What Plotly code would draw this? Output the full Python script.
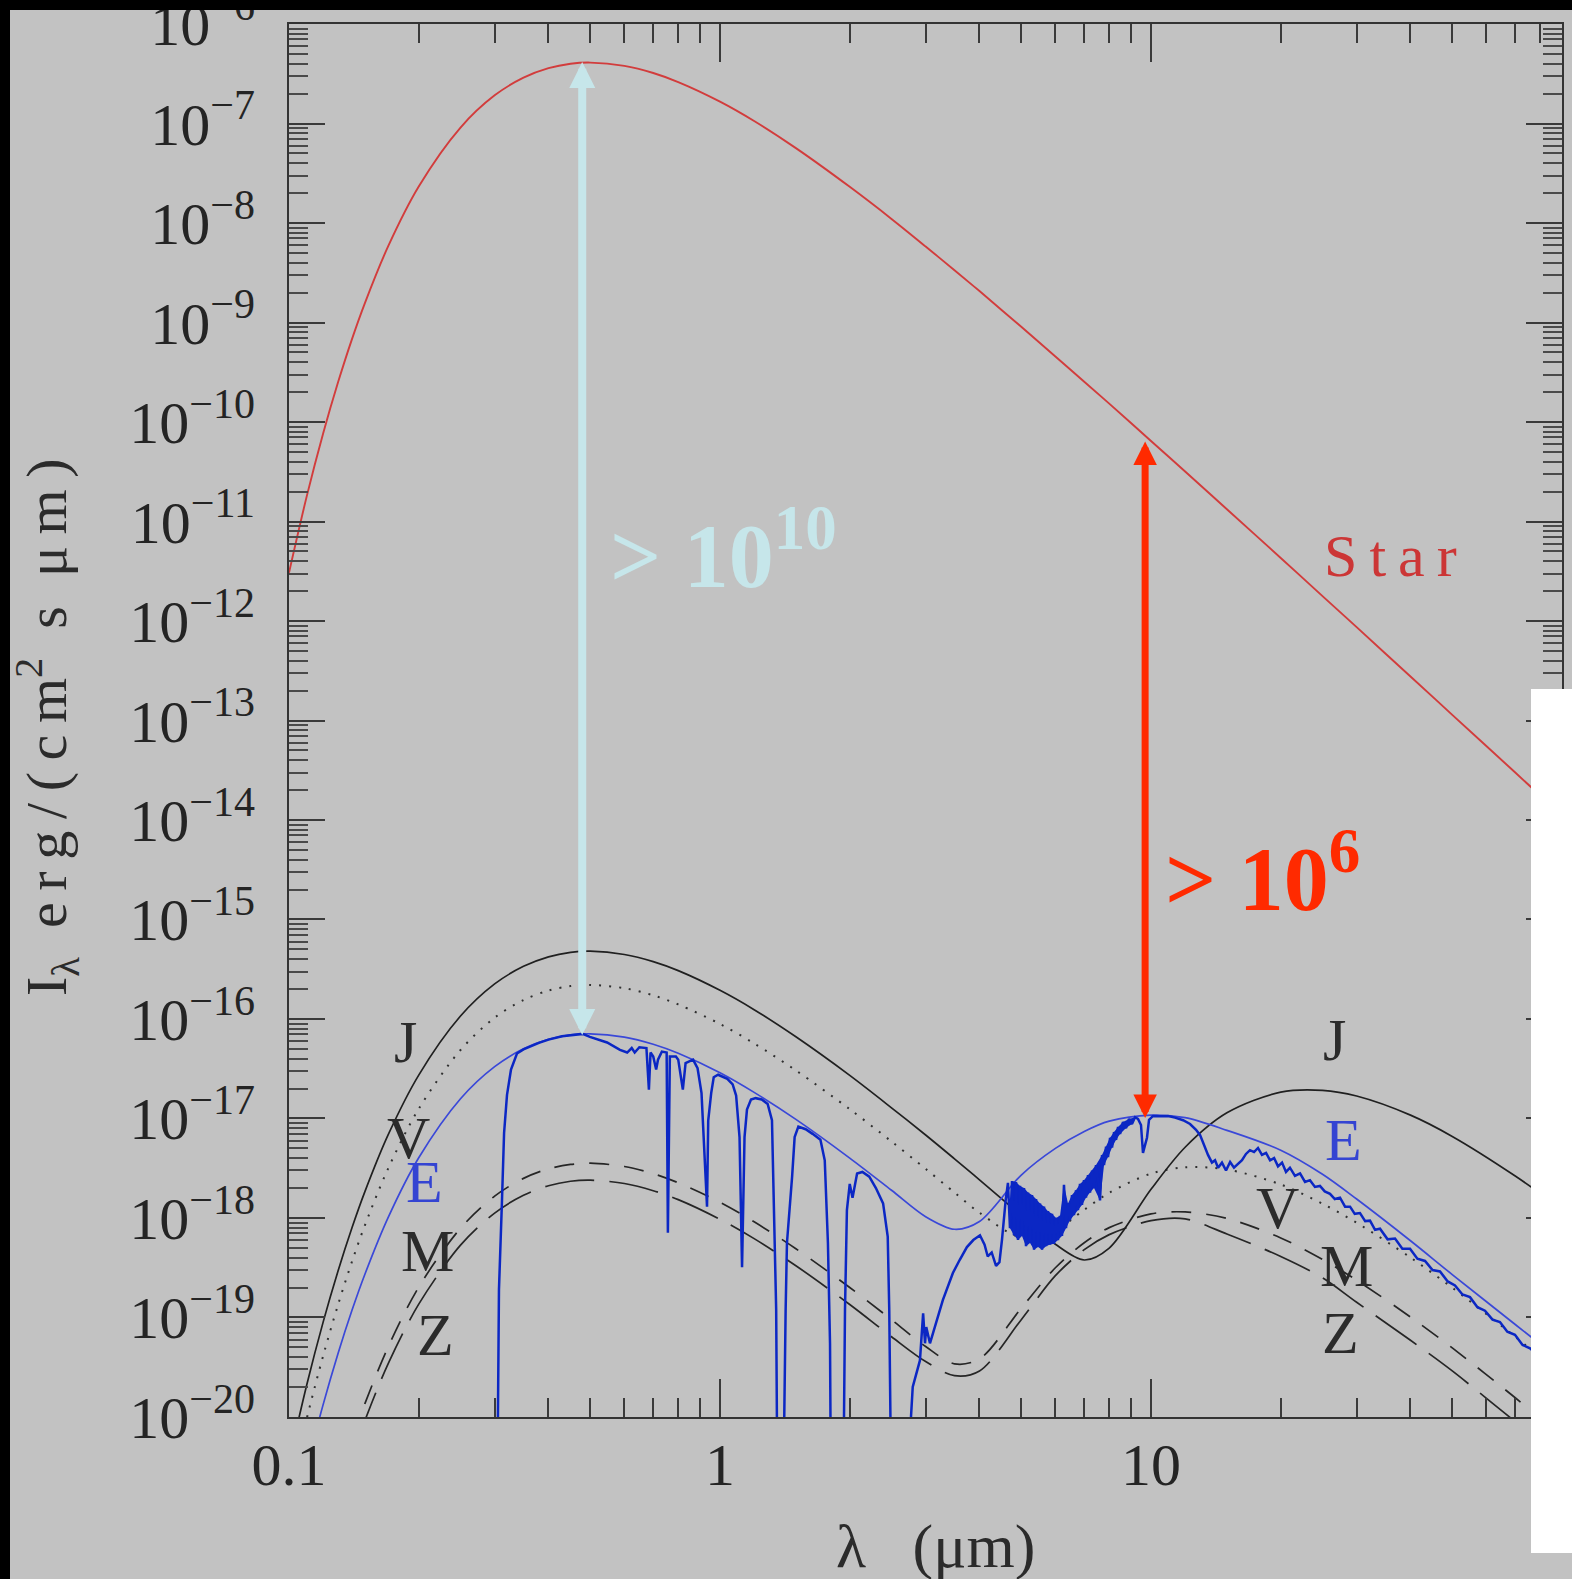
import math
import plotly.graph_objects as go

# ---------------- data ----------------
LAMBDA_UM = [0.1, 0.11, 0.12, 0.13, 0.14, 0.15, 0.17, 0.2, 0.25, 0.3, 0.35, 0.4, 0.45, 0.5,
             0.6, 0.7, 0.8, 1.0, 1.2, 1.5, 2, 2.5, 3, 3.5, 4, 5, 6, 7, 8, 10, 12, 15, 20, 25,
             30, 40, 50, 70, 90]

STAR = [3.06e-12, 1.81e-11, 7.68e-11, 2.52e-10, 6.82e-10, 1.57e-9, 5.89e-9, 2.33e-8, 9.12e-8,
        1.92e-7, 2.89e-7, 3.60e-7, 3.99e-7, 4.10e-7, 3.80e-7, 3.22e-7, 2.61e-7, 1.66e-7,
        1.06e-7, 5.66e-8, 2.31e-8, 1.10e-8, 5.81e-9, 3.35e-9, 2.07e-9, 9.05e-10, 4.56e-10,
        2.54e-10, 1.53e-10, 6.45e-11, 3.18e-11, 1.33e-11, 4.30e-12, 1.78e-12, 8.67e-13,
        2.77e-13, 1.14e-13, 3.0e-14, 1.10e-14]

JUPITER = [3.58e-21, 2.12e-20, 8.98e-20, 2.95e-19, 7.97e-19, 1.84e-18, 6.91e-18, 2.73e-17,
           1.07e-16, 2.25e-16, 3.38e-16, 4.21e-16, 4.67e-16, 4.8e-16, 4.45e-16, 3.77e-16,
           3.06e-16, 1.94e-16, 1.24e-16, 6.62e-17, 2.71e-17, 1.28e-17, 6.82e-18, 3.93e-18,
           2.42e-18, 1.06e-18, 5.44e-19, 3.78e-19, 4.98e-19, 1.94e-18, 5.14e-18, 1.14e-17,
           1.84e-17, 1.92e-17, 1.68e-17, 1.08e-17, 6.6e-18, 2.64e-18, 1.22e-18]

VENUS = [1.64e-21, 9.7e-21, 4.11e-20, 1.35e-19, 3.65e-19, 8.43e-19, 3.17e-18, 1.25e-17,
         4.88e-17, 1.03e-16, 1.55e-16, 1.93e-16, 2.14e-16, 2.2e-16, 2.04e-16, 1.73e-16,
         1.40e-16, 8.91e-17, 5.68e-17, 3.04e-17, 1.24e-17, 5.87e-18, 3.12e-18, 1.80e-18,
         1.13e-18, 6.38e-19, 7.52e-19, 1.21e-18, 1.79e-18, 2.79e-18, 3.23e-18, 3.07e-18,
         2.17e-18, 1.39e-18, 8.96e-19, 4.0e-19, 1.99e-19, 6.4e-20, 2.6e-20]

EARTH_BB = [5.3e-22, 3.13e-21, 1.33e-20, 4.37e-20, 1.18e-19, 2.72e-19, 1.02e-18, 4.03e-18,
            1.58e-17, 3.32e-17, 5.01e-17, 6.23e-17, 6.91e-17, 7.1e-17, 6.58e-17, 5.57e-17,
            4.52e-17, 2.88e-17, 1.83e-17, 9.8e-18, 4.0e-18, 1.90e-18, 1.03e-18, 7.7e-19,
            9.2e-19, 2.7e-18, 5.0e-18, 7.4e-18, 9.4e-18, 1.08e-17, 1.02e-17, 7.6e-18,
            4.8e-18, 2.75e-18, 1.55e-18, 5.9e-19, 2.7e-19, 8.5e-20, 3.6e-20]

MARS = [2.65e-23, 1.57e-22, 6.6e-22, 2.18e-21, 5.9e-21, 1.36e-20, 5.1e-20, 2.02e-19, 7.88e-19,
        1.66e-18, 2.5e-18, 3.12e-18, 3.45e-18, 3.55e-18, 3.29e-18, 2.79e-18, 2.26e-18,
        1.44e-18, 9.16e-19, 4.9e-19, 2.0e-19, 9.5e-20, 5.1e-20, 3.42e-20, 3.83e-20, 1.24e-19,
        3.16e-19, 5.64e-19, 8.0e-19, 1.1e-18, 1.15e-18, 9.9e-19, 6.3e-19, 3.83e-19, 2.37e-19,
        1.01e-19, 4.94e-20, 1.56e-20, 6.3e-21]

ZODI = [1.8e-23, 1.06e-22, 4.5e-22, 1.48e-21, 3.98e-21, 9.2e-21, 3.46e-20, 1.36e-19, 5.33e-19,
        1.12e-18, 1.69e-18, 2.11e-18, 2.34e-18, 2.4e-18, 2.22e-18, 1.88e-18, 1.53e-18,
        9.7e-19, 6.2e-19, 3.31e-19, 1.35e-19, 6.4e-20, 3.6e-20, 2.6e-20, 2.9e-20, 9.5e-20,
        2.63e-19, 4.8e-19, 6.8e-19, 9.4e-19, 9.8e-19, 6.9e-19, 4.1e-19, 2.5e-19, 1.42e-19,
        5.9e-20, 2.9e-20, 9e-21, 4e-21]

# Earth spectrum (wavelength um, intensity) pieces
EARTH_SPEC_VIS = [
    (0.304, 1e-21), (0.307, 1.9e-19), (0.312, 1.5e-18), (0.3155, 7.1e-18), (0.3205, 1.73e-17),
    (0.3274, 3.1e-17), (0.338, 4.5e-17), (0.35, 4.95e-17), (0.38, 5.75e-17), (0.40, 6.2e-17),
    (0.43, 6.7e-17), (0.46, 7.0e-17), (0.48, 7.08e-17), (0.499, 6.6e-17), (0.52, 6.2e-17),
    (0.547, 5.8e-17), (0.586, 4.9e-17), (0.609, 4.6e-17), (0.624, 5.1e-17), (0.634, 4.6e-17),
    (0.65, 5.2e-17), (0.675, 5.1e-17), (0.684, 1.95e-17), (0.69, 4.6e-17), (0.70, 4.2e-17),
    (0.711, 3.1e-17), (0.718, 3.9e-17), (0.733, 4.7e-17), (0.752, 4.6e-17), (0.757, 7.1e-19),
    (0.765, 4.2e-17), (0.79, 4.2e-17), (0.80, 3.9e-17), (0.82, 1.95e-17), (0.832, 3.6e-17),
    (0.866, 3.9e-17), (0.887, 3.2e-17), (0.906, 1.8e-17), (0.933, 1.3e-18), (0.939, 9.5e-18),
    (0.954, 1.8e-17), (0.967, 2.6e-17), (0.99, 2.75e-17),
]
EARTH_SPEC_NIR = [
    (1.04, 2.5e-17), (1.07, 2.2e-17), (1.09, 1.7e-17), (1.11, 6.5e-18), (1.125, 3.2e-19),
    (1.14, 6.5e-18), (1.155, 1.23e-17), (1.18, 1.55e-17), (1.21, 1.6e-17), (1.25, 1.55e-17),
    (1.29, 1.4e-17), (1.32, 9.6e-18), (1.33, 2.6e-18), (1.35, 1.2e-19), (1.36, 1e-21),
    (1.40, 1e-21), (1.42, 1.2e-19), (1.43, 5.6e-19), (1.47, 2.6e-18), (1.49, 6.5e-18),
    (1.52, 8.3e-18), (1.58, 7.8e-18), (1.64, 7.0e-18), (1.71, 6.1e-18), (1.75, 3.8e-18),
    (1.78, 5.6e-19), (1.80, 5.5e-20), (1.81, 1e-21), (1.93, 1e-21), (1.95, 1.2e-19),
    (1.97, 1.2e-18), (2.0, 2.2e-18), (2.03, 1.6e-18), (2.08, 2.8e-18), (2.14, 2.9e-18),
    (2.22, 2.6e-18), (2.30, 2.0e-18), (2.39, 1.4e-18), (2.45, 6.5e-19), (2.47, 1.2e-19),
    (2.50, 1e-21), (2.69, 1e-21), (2.80, 2e-20), (2.91, 3.7e-20), (2.96, 1.1e-19),
    (2.99, 5.5e-20), (3.01, 8e-20), (3.07, 5.5e-20), (3.29, 1.5e-19), (3.47, 2.8e-19),
    (3.60, 3.8e-19), (3.74, 5.1e-19), (3.87, 6.0e-19), (4.01, 6.7e-19), (4.11, 5.4e-19),
    (4.18, 4.1e-19), (4.27, 4.5e-19), (4.37, 3.3e-19), (4.45, 3.6e-19), (4.51, 6.0e-19),
    (4.60, 1.5e-18),
]
EARTH_SPEC_BAND = [
    (4.657, 2.25e-18), (4.708, 7.9e-19), (4.759, 2.35e-18), (4.810, 6.7e-19), (4.862, 2.3e-18),
    (4.914, 6.0e-19), (4.967, 2.1e-18), (5.020, 6.6e-19), (5.074, 2.0e-18), (5.129, 5.2e-19),
    (5.184, 1.8e-18), (5.240, 5.6e-19), (5.296, 1.7e-18), (5.353, 4.8e-19), (5.411, 1.55e-18),
    (5.469, 5.1e-19), (5.528, 1.4e-18), (5.587, 4.8e-19), (5.647, 1.3e-18), (5.708, 5.2e-19),
    (5.768, 1.17e-18), (5.831, 5.4e-19), (5.893, 1.1e-18), (5.955, 5.5e-19), (6.020, 1.0e-18),
    (6.084, 6.0e-19), (6.150, 1.05e-18), (6.215, 6.6e-19), (6.282, 2.15e-18), (6.350, 7.9e-19),
    (6.418, 1.4e-18), (6.487, 9.5e-19), (6.556, 1.7e-18), (6.627, 1.07e-18), (6.698, 1.9e-18),
    (6.770, 1.2e-18), (6.843, 2.2e-18), (6.917, 1.35e-18), (6.991, 2.4e-18), (7.066, 1.6e-18),
    (7.142, 2.7e-18), (7.220, 1.8e-18), (7.297, 3.0e-18), (7.375, 2.0e-18), (7.455, 3.4e-18),
    (7.535, 2.4e-18), (7.616, 1.5e-18), (7.698, 4.3e-18), (7.781, 3.4e-18), (7.865, 5.2e-18),
    (7.949, 4.1e-18), (8.035, 6.4e-18), (8.121, 5.1e-18), (8.209, 7.3e-18), (8.297, 6.1e-18),
    (8.386, 8.2e-18), (8.477, 7.0e-18), (8.610, 9.2e-18), (8.750, 8.0e-18), (8.892, 9.9e-18),
    (9.034, 8.8e-18), (9.182, 1.03e-17), (9.329, 9.9e-18),
]
EARTH_SPEC_FIR = [
    (9.480, 8.6e-18), (9.581, 4.5e-18), (9.685, 5.4e-18), (9.788, 6.4e-18), (9.895, 9.7e-18),
    (10.11, 1.06e-17), (10.49, 1.05e-17), (10.95, 1.06e-17), (11.37, 1.02e-17), (11.87, 9.6e-18),
    (12.32, 8.8e-18), (12.72, 7.7e-18), (13.0, 6.8e-18), (13.27, 5.4e-18), (13.56, 4.3e-18),
    (13.85, 3.6e-18), (14.08, 3.8e-18), (14.31, 3.2e-18), (14.61, 3.6e-18), (14.93, 3.0e-18),
    (15.26, 3.65e-18), (15.58, 3.2e-18), (15.92, 3.5e-18), (16.26, 3.8e-18), (16.61, 4.4e-18),
    (16.97, 4.8e-18), (17.34, 4.6e-18), (17.71, 5.05e-18), (18.09, 4.3e-18), (18.49, 4.5e-18),
    (18.89, 3.8e-18), (19.30, 4.0e-18), (19.71, 3.3e-18), (20.14, 3.6e-18), (20.57, 2.9e-18),
    (21.01, 3.2e-18), (21.58, 2.65e-18), (22.17, 2.8e-18), (22.77, 2.3e-18), (23.38, 2.4e-18),
    (24.01, 2.05e-18), (24.66, 2.1e-18), (25.3, 1.85e-18), (26.02, 1.75e-18), (26.7, 1.55e-18),
    (27.45, 1.6e-18), (28.2, 1.3e-18), (28.96, 1.3e-18), (29.7, 1.1e-18), (30.54, 1.12e-18),
    (31.4, 9.3e-19), (32.22, 9.4e-19), (33.1, 7.6e-19), (33.99, 7.8e-19), (35.4, 6.1e-19),
    (36.83, 6.2e-19), (38.3, 4.9e-19), (39.90, 4.9e-19), (41.5, 3.9e-19), (43.23, 3.7e-19),
    (45.0, 3.0e-19), (46.83, 2.9e-19), (48.8, 2.3e-19), (50.74, 2.1e-19), (52.8, 1.7e-19),
    (54.97, 1.6e-19), (57.2, 1.27e-19), (59.55, 1.17e-19), (62.0, 9.5e-20), (64.51, 9.0e-20),
    (67.1, 7.2e-20), (69.89, 6.7e-20), (72.8, 5.3e-20), (75.75, 4.9e-20), (82.07, 3.6e-20),
]

# arrows: (wavelength, upper value, lower value)
ARROW_VISIBLE = (0.479, 4.3e-7, 6.9e-17)
ARROW_INFRARED = (9.69, 6.6e-11, 1.01e-17)

X_TICKS = [0.1, 1, 10]
X_TICK_TEXT = ["0.1", "1", "10"]
Y_EXPONENTS = list(range(-20, -5))
Y_TICKS = [10.0 ** e for e in Y_EXPONENTS]
Y_TICK_TEXT = ["10<sup>\u2212%d</sup>" % (-e) for e in Y_EXPONENTS]
X_MINOR = [k * 10.0 ** e for e in (-1, 0, 1) for k in range(2, 10)]
Y_MINOR = [k * 10.0 ** e for e in range(-20, -6) for k in range(2, 10)]

# ---------------- layout geometry ----------------
W, H = 1572, 1579
ML, MR, MT, MB = 289, 10, 24, 162
PW, PH = W - ML - MR, H - MT - MB
PX_PER_DEC_X = 431.0
X_RANGE = [-1.0, -1.0 + PW / PX_PER_DEC_X]
Y_RANGE = [-20.0005, -5.9995]

BG = "#c2c2c2"
INK = "#2b2b2b"
SERIF = "Liberation Serif, Times New Roman, serif"
NB = "\u00a0"
TS = "\u2009"


def paper(xp, yp):
    return (xp - ML) / PW, (H - MB - yp) / PH


fig = go.Figure()


def add_line(xs, ys, color, width, dash=None, shape="spline"):
    fig.add_trace(go.Scatter(
        x=xs, y=ys, mode="lines", hoverinfo="skip",
        line=dict(color=color, width=width, dash=dash, shape=shape, smoothing=0.9),
    ))


add_line(LAMBDA_UM, ZODI, "#262626", 1.7, dash="50px,15px")
add_line(LAMBDA_UM, MARS, "#262626", 1.7, dash="20px,15px")
add_line(LAMBDA_UM, VENUS, "#303030", 2.0, dash="2px,8px")
add_line(LAMBDA_UM, JUPITER, "#202020", 1.7)
add_line(LAMBDA_UM, EARTH_BB, "#3a48d8", 1.7)

SPEC_BLUE = "#0b27c4"
# dense water band: fill between the local maxima and minima of the band samples
band = EARTH_SPEC_BAND
upper = [band[i] for i in range(1, len(band) - 1)
         if band[i][1] >= band[i - 1][1] and band[i][1] >= band[i + 1][1]]
lower = [band[i] for i in range(1, len(band) - 1)
         if band[i][1] <= band[i - 1][1] and band[i][1] <= band[i + 1][1]]
poly = upper + lower[::-1]
fig.add_trace(go.Scatter(
    x=[p[0] for p in poly], y=[p[1] for p in poly], mode="lines", fill="toself",
    fillcolor=SPEC_BLUE, line=dict(width=0, color=SPEC_BLUE), hoverinfo="skip",
))
spec = EARTH_SPEC_VIS + EARTH_SPEC_NIR + EARTH_SPEC_BAND + EARTH_SPEC_FIR
add_line([p[0] for p in spec], [p[1] for p in spec], SPEC_BLUE, 2.5, shape="linear")
add_line(LAMBDA_UM, STAR, "#d23c3c", 1.9)

axis_common = dict(
    type="log", showgrid=False, zeroline=False, showline=True, linecolor="#333333",
    linewidth=2, mirror="allticks", ticks="inside", tickwidth=2, tickcolor="#3a3a3a",
    tickmode="array", tickfont=dict(family=SERIF, size=60, color="#242424"),
    ticklabeloverflow="allow",
)
fig.update_xaxes(
    **axis_common, range=X_RANGE, tickvals=X_TICKS, ticktext=X_TICK_TEXT, ticklen=38,
    ticklabelstandoff=-6,
    minor=dict(tickmode="array", tickvals=X_MINOR, ticks="inside", ticklen=19, tickwidth=2,
               tickcolor="#3a3a3a", showgrid=False),
)
fig.update_yaxes(
    **axis_common, range=Y_RANGE, tickvals=Y_TICKS, ticktext=Y_TICK_TEXT, ticklen=36,
    ticklabelstandoff=20,
    minor=dict(tickmode="array", tickvals=Y_MINOR, ticks="inside", ticklen=19, tickwidth=2,
               tickcolor="#4a4a4a", showgrid=False),
)

annotations = []
# double arrows (head size in px / line width)
for (lam, top, bot), col, wid, head in ((ARROW_VISIBLE, "#c6e6ea", 8, 5.2),
                                         (ARROW_INFRARED, "#ff2a00", 7, 4.7)):
    lx = math.log10(lam)
    annotations.append(dict(
        x=lx, y=math.log10(bot), ax=lx, ay=math.log10(top), xref="x", yref="y", axref="x",
        ayref="y", text="", showarrow=True, arrowhead=2, startarrowhead=2,
        arrowside="end+start", arrowwidth=wid, arrowsize=head / wid,
        startarrowsize=head / wid, arrowcolor=col, standoff=0, startstandoff=0,
    ))


def label(text, xp, yp, size=60, color=INK, xanchor="center", yanchor="middle", angle=0, bold=False):
    x, y = paper(xp, yp)
    annotations.append(dict(
        x=x, y=y, xref="paper", yref="paper", text=text, showarrow=False,
        xanchor=xanchor, yanchor=yanchor, textangle=angle,
        font=dict(family=SERIF, size=size, color=color, weight="bold" if bold else "normal"),
    ))


label("&gt; 10<sup>10</sup>", 608, 549, size=90, color="#c6e6ea", xanchor="left", bold=True)
label("&gt; 10<sup>6</sup>", 1163, 872, size=90, color="#ff2a00", xanchor="left", bold=True)
label(TS.join("Star"), 1390, 556, size=60, color="#cc3636")

BLUE_LABEL = "#3444d2"
for txt, xp, yp, col in (
    ("J", 405, 1042, INK), ("V", 408, 1138, INK), ("E", 424, 1182, BLUE_LABEL),
    ("M", 427, 1251, INK), ("Z", 435, 1335, INK),
    ("J", 1334, 1040, INK), ("E", 1343, 1140, BLUE_LABEL), ("V", 1277, 1208, INK),
    ("M", 1346, 1266, INK), ("Z", 1340, 1333, INK),
):
    label(txt, xp, yp, size=60, color=col)

label("\u03bb" + NB * 3 + "(\u03bcm)", 935, 1546, size=62, color=INK)
label("I<sub>\u03bb</sub>" + NB * 2 + TS.join("erg/(cm") + "<sup>2</sup>" + NB * 2 + "s"
      + NB * 2 + TS.join("\u03bcm)"),
      47, 727, size=58, color=INK, angle=-90)

# frame pieces of the screenshot (black borders and white patch)
shapes = []
x0, _ = paper(-50, 0)
x1, _ = paper(W + 50, 0)
_, ytop = paper(0, -50)
_, yb10 = paper(0, 10)
shapes.append(dict(type="rect", xref="paper", yref="paper", x0=x0, x1=x1, y0=yb10, y1=ytop,
                   fillcolor="#000000", line=dict(width=0), layer="above"))
xl0, yl0 = paper(-50, H + 50)
xl1, _ = paper(10, 0)
shapes.append(dict(type="rect", xref="paper", yref="paper", x0=xl0, x1=xl1, y0=yl0, y1=ytop,
                   fillcolor="#000000", line=dict(width=0), layer="above"))
wx0, wy1 = paper(1531, 689)
wx1, wy0 = paper(W + 50, 1553)
shapes.append(dict(type="rect", xref="paper", yref="paper", x0=wx0, x1=wx1, y0=wy0, y1=wy1,
                   fillcolor="#ffffff", line=dict(width=0), layer="above"))

fig.update_layout(
    width=W, height=H, margin=dict(l=ML, r=MR, t=MT, b=MB, autoexpand=False),
    paper_bgcolor=BG, plot_bgcolor=BG, showlegend=False,
    annotations=annotations, shapes=shapes,
)

fig.write_html("out.html")
